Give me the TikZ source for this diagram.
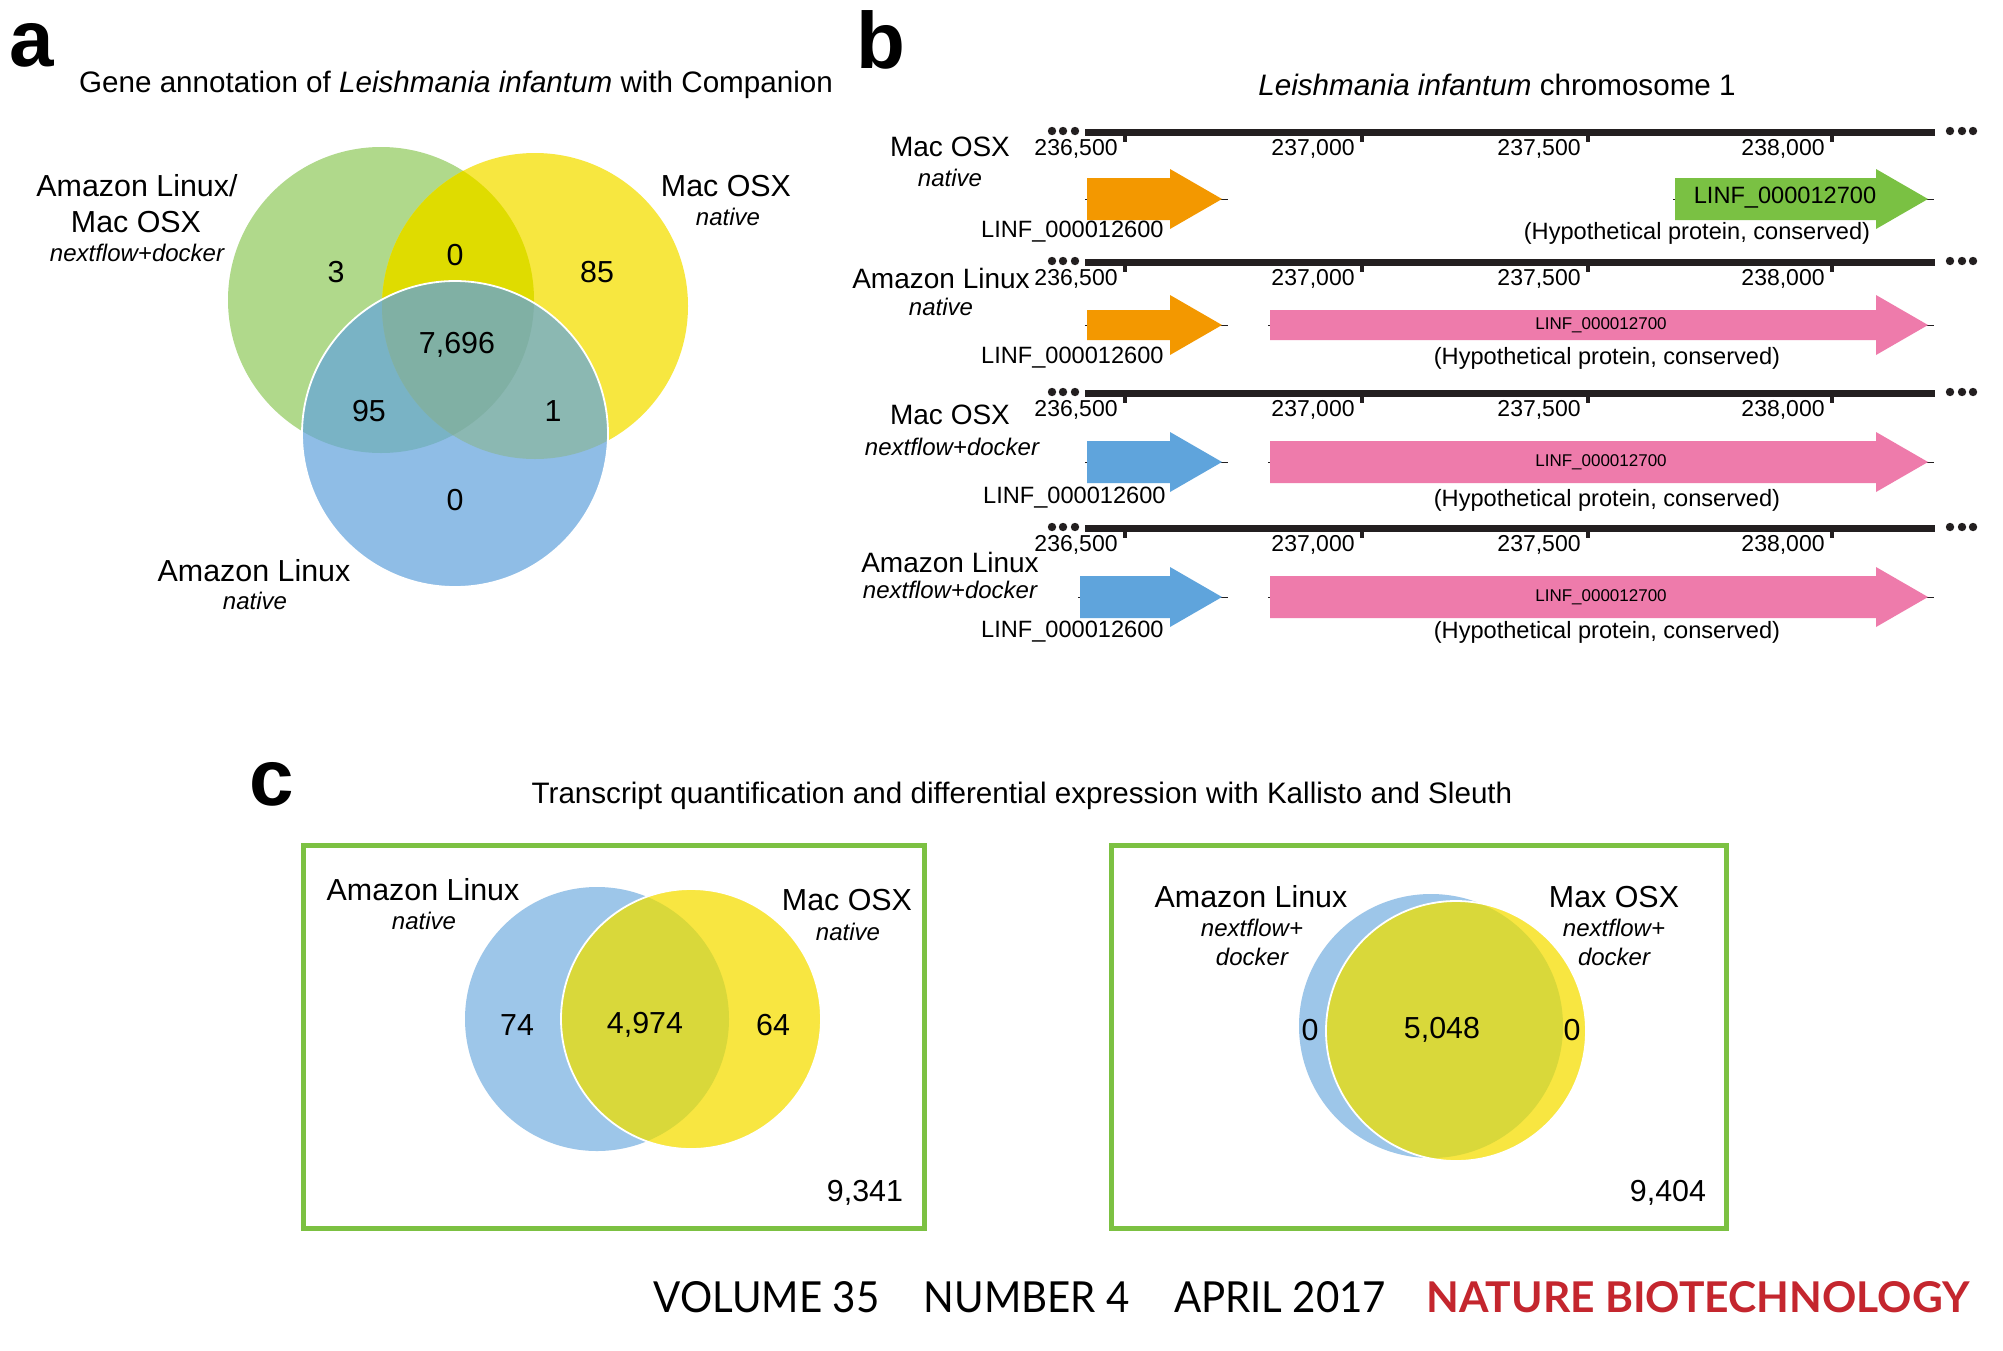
\documentclass[tikz,border=0pt]{standalone}
\usepackage{fontspec}
\usepackage{graphicx}
\setmainfont{Liberation Sans}
\newfontfamily\jrnlfont{Lato}
\usetikzlibrary{positioning}

\definecolor{vgreen}{HTML}{B0D98B}
\definecolor{vyellow}{HTML}{F7E740}
\definecolor{vblue}{HTML}{8FBDE6}
\definecolor{vgy}{HTML}{DFDC00}
\definecolor{vgb}{HTML}{79B3C5}
\definecolor{vyb}{HTML}{8BB8B2}
\definecolor{vgyb}{HTML}{80B0A4}
\definecolor{cblue}{HTML}{9DC6E9}
\definecolor{cyellow}{HTML}{F8E641}
\definecolor{cboth}{HTML}{D9D83A}
\definecolor{boxgreen}{HTML}{7CC142}
\definecolor{genorange}{HTML}{F39800}
\definecolor{gengreen}{HTML}{7AC143}
\definecolor{genpink}{HTML}{EE7BAB}
\definecolor{genblue}{HTML}{5FA4DC}
\definecolor{natred}{HTML}{C4262E}
\definecolor{trackgray}{HTML}{231F20}

% gene arrow: colour, x start, x tip, y, half height of body
\newcommand{\genearrow}[5]{%
  \draw[trackgray, line width=0.5pt] (#2-2,#4) -- (#3+6,#4);
  \fill[#1] (#2,#4-#5) -- (#3-52,#4-#5) -- (#3-52,#4-30) -- (#3,#4)
    -- (#3-52,#4+30) -- (#3-52,#4+#5) -- (#2,#4+#5) -- cycle;}

% chromosome ruler at height #1
\newcommand{\chromline}[1]{%
  \draw[trackgray, line width=3.5pt] (1085,#1) -- (1935,#1);
  \foreach \dx in {1052,1063,1075,1950,1962,1973}
    \fill[trackgray] (\dx,#1-1) circle[radius=2.1pt];
  \foreach \tx/\tl in {1125/{236,500},1362/{237,000},1588/{237,500},1832/{238,000}} {
    \fill[trackgray] (\tx-2,#1) rectangle (\tx+2,#1+10);
    \node[tick lbl] (tk#1-\tx) at (\tx-7,#1+23) {\tl};
  }}

\tikzset{
  panel/.style={inner sep=0pt, font=\fontsize{40}{40}\selectfont\bfseries},
  ttl/.style={inner sep=0pt, font=\fontsize{14.8}{17}\selectfont},
  lbl/.style={inner sep=0pt, font=\fontsize{15.2}{17}\selectfont},
  num/.style={inner sep=0pt, font=\fontsize{15.2}{17}\selectfont},
  sub/.style={inner sep=0pt, font=\fontsize{12}{14}\selectfont\itshape},
  trk/.style={inner sep=0pt, font=\fontsize{14}{16}\selectfont},
  tick lbl/.style={inner sep=0pt, anchor=base east, font=\fontsize{11.5}{13}\selectfont},
  gene lbl/.style={inner sep=0pt, font=\fontsize{11.8}{13}\selectfont},
  small gene/.style={inner sep=0pt, font=\fontsize{8.5}{10}\selectfont},
  frame/.style={draw=boxgreen, line width=2.5pt},
}

\begin{document}
\begin{tikzpicture}[x=0.5pt,y=-0.5pt]
  \fill[white] (0,0) rectangle (2003,1350);
  \useasboundingbox (0,0) rectangle (2003,1350);

  %%% a
  \node[panel] (pa) at (32,45) {a};
  \node[ttl] (ta) at (456,85) {Gene annotation of \textit{Leishmania infantum} with Companion};

  \coordinate (gc) at (381,300);
  \coordinate (yc) at (535,306);
  \coordinate (bc) at (455,434);
  \fill[vgreen] (gc) circle[radius=76.5pt];
  \fill[vyellow] (yc) circle[radius=76.5pt];
  \fill[vblue] (bc) circle[radius=76.5pt];
  \begin{scope}
    \clip (gc) circle[radius=76.5pt];
    \fill[vgy] (yc) circle[radius=76.5pt];
    \fill[vgb] (bc) circle[radius=76.5pt];
  \end{scope}
  \begin{scope}
    \clip (yc) circle[radius=76.5pt];
    \fill[vyb] (bc) circle[radius=76.5pt];
  \end{scope}
  \begin{scope}
    \clip (gc) circle[radius=76.5pt];
    \clip (yc) circle[radius=76.5pt];
    \fill[vgyb] (bc) circle[radius=76.5pt];
  \end{scope}
  \draw[white, line width=0.9pt] (bc) circle[radius=76.5pt];

  \node[lbl] (aam1) at (137,186) {Amazon Linux/};
  \node[lbl] (aam2) at (136,222) {Mac OSX};
  \node[sub] (aam3) at (137,253) {nextflow+docker};
  \node[lbl] (amac1) at (726,186) {Mac OSX};
  \node[sub] (amac2) at (728,217) {native};
  \node[lbl] (aaz1) at (254,571) {Amazon Linux};
  \node[sub] (aaz2) at (255,601) {native};

  \node[num] (n3) at (336,272) {3};
  \node[num] (n0a) at (455,255) {0};
  \node[num] (n85) at (597,272) {85};
  \node[num] (n7696) at (457,345) {7,696};
  \node[num] (n95) at (369,411) {95};
  \node[num] (n1) at (553,411) {1};
  \node[num] (n0b) at (455,500) {0};

  %%% b
  \node[panel] (pb) at (881,40) {b};
  \node[ttl] (tb) at (1497,85) {\textit{Leishmania infantum} chromosome 1};

  \chromline{132}
  \chromline{262}
  \chromline{393}
  \chromline{528}

  \node[trk] (t1a) at (950,147) {Mac OSX};
  \node[sub] (t1b) at (950,178) {native};
  \node[trk] (t2a) at (941,278) {Amazon Linux};
  \node[sub] (t2b) at (941,307) {native};
  \node[trk] (t3a) at (950,415) {Mac OSX};
  \node[sub] (t3b) at (952,447) {nextflow+docker};
  \node[trk] (t4a) at (950,562) {Amazon Linux};
  \node[sub] (t4b) at (950,590) {nextflow+docker};

  % track 1
  \genearrow{genorange}{1087}{1222}{199}{21}
  \genearrow{gengreen}{1675}{1928}{199}{21}
  \node[gene lbl] (g1in) at (1785,198) {LINF\_000012700};
  \node[gene lbl, anchor=east] (g1a) at (1164,232) {LINF\_000012600};
  \node[gene lbl] (g1b) at (1697,233) {(Hypothetical protein, conserved)};
  % track 2
  \genearrow{genorange}{1087}{1222}{325}{15}
  \genearrow{genpink}{1270}{1928}{325}{15}
  \node[small gene] (g2in) at (1601,325) {LINF\_000012700};
  \node[gene lbl, anchor=east] (g2a) at (1164,358) {LINF\_000012600};
  \node[gene lbl] (g2b) at (1607,358) {(Hypothetical protein, conserved)};
  % track 3
  \genearrow{genblue}{1087}{1222}{462}{21}
  \genearrow{genpink}{1270}{1928}{462}{21}
  \node[small gene] (g3in) at (1601,462) {LINF\_000012700};
  \node[gene lbl, anchor=east] (g3a) at (1166,498) {LINF\_000012600};
  \node[gene lbl] (g3b) at (1607,500) {(Hypothetical protein, conserved)};
  % track 4
  \genearrow{genblue}{1080}{1222}{597}{21}
  \genearrow{genpink}{1270}{1928}{597}{21}
  \node[small gene] (g4in) at (1601,597) {LINF\_000012700};
  \node[gene lbl, anchor=east] (g4a) at (1164,632) {LINF\_000012600};
  \node[gene lbl] (g4b) at (1607,632) {(Hypothetical protein, conserved)};

  %%% c
  \node[panel] (pc) at (272,784) {c};
  \node[ttl] (tc) at (1022,796) {Transcript quantification and differential expression with Kallisto and Sleuth};

  \draw[frame] (303,845) rectangle (924,1228);
  \draw[frame] (1111,845) rectangle (1726,1228);

  % native
  \coordinate (c1b) at (597,1019);
  \coordinate (c1y) at (691,1019);
  \fill[cblue] (c1b) circle[radius=66pt];
  \fill[cyellow] (c1y) circle[radius=65pt];
  \begin{scope}
    \clip (c1b) circle[radius=66pt];
    \fill[cboth] (c1y) circle[radius=65pt];
  \end{scope}
  \draw[white, line width=0.9pt] (c1y) circle[radius=65pt];

  \node[lbl] (c1l1) at (423,890) {Amazon Linux};
  \node[sub] (c1l2) at (424,921) {native};
  \node[lbl] (c1r1) at (847,900) {Mac OSX};
  \node[sub] (c1r2) at (848,932) {native};
  \node[num] (n74) at (517,1025) {74};
  \node[num] (n4974) at (645,1025) {4,974};
  \node[num] (n64) at (773,1025) {64};
  \node[num] (n9341) at (865,1193) {9,341};

  % nextflow+docker
  \coordinate (c2b) at (1431,1026);
  \coordinate (c2y) at (1456,1031);
  \fill[cblue] (c2b) circle[radius=66pt];
  \fill[cyellow] (c2y) circle[radius=65pt];
  \begin{scope}
    \clip (c2b) circle[radius=66pt];
    \fill[cboth] (c2y) circle[radius=65pt];
  \end{scope}
  \draw[white, line width=0.9pt] (c2y) circle[radius=65pt];

  \node[lbl] (c2l1) at (1251,897) {Amazon Linux};
  \node[sub] (c2l2) at (1252,928) {nextflow+};
  \node[sub] (c2l3) at (1252,957) {docker};
  \node[lbl] (c2r1) at (1614,897) {Max OSX};
  \node[sub] (c2r2) at (1614,928) {nextflow+};
  \node[sub] (c2r3) at (1614,957) {docker};
  \node[num] (n0c) at (1310,1030) {0};
  \node[num] (n5048) at (1442,1030) {5,048};
  \node[num] (n0d) at (1572,1030) {0};
  \node[num] (n9404) at (1668,1193) {9,404};

  %%% footer
  \node[inner sep=0pt] (vol) at (1020,1297)
    {\resizebox{366pt}{15.5pt}{\jrnlfont VOLUME 35\hspace{1.1em}NUMBER 4\hspace{1.1em}APRIL 2017}};
  \node[inner sep=0pt, text=natred] (jname) at (1698,1297)
    {\resizebox{271.5pt}{15.5pt}{\jrnlfont\bfseries NATURE BIOTECHNOLOGY}};
\end{tikzpicture}
\end{document}
